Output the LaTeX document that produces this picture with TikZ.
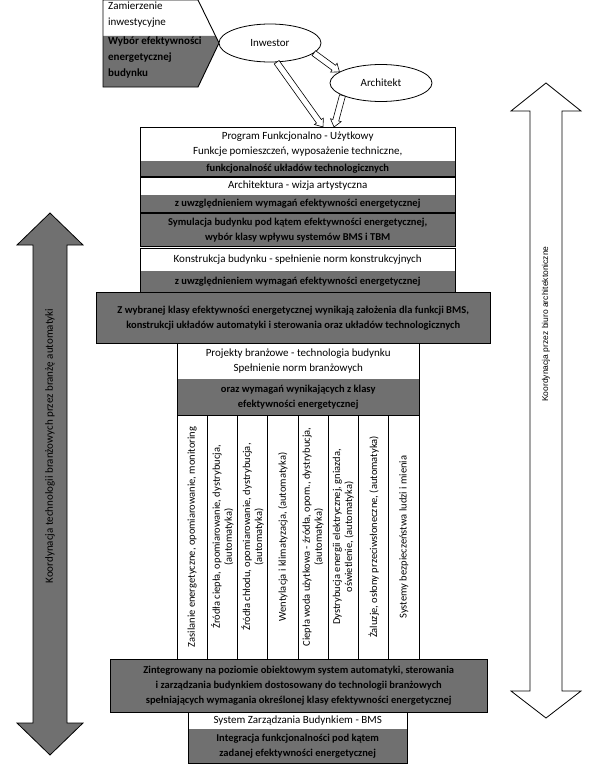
\documentclass[tikz,border=0pt]{standalone}
\usepackage{fontspec}
\setmainfont{Carlito}
\newfontfamily\arialfont{Liberation Sans}
\usetikzlibrary{calc,shapes.geometric}
\definecolor{boxgray}{RGB}{112,112,112}
\tikzset{
  boxline/.style={draw,line width=0.9pt},
  wpart/.style={fill=white,inner sep=0pt,align=center,font=\fontsize{11}{15}\selectfont},
  gpart/.style={fill=boxgray,inner sep=0pt,align=center,font=\fontsize{10.5}{15}\selectfont\bfseries},
  bubble/.style={ellipse,draw,fill=white,line width=0.8pt,minimum width=102pt,minimum height=38pt,inner sep=0pt,font=\fontsize{11}{12}\selectfont},
  colbox/.style={draw,line width=0.9pt,rotate=90,minimum width=244pt,minimum height=30.25pt,inner sep=0pt,align=center,font=\fontsize{10.5}{12}\selectfont},
  hollow/.style={draw,fill=white,line width=0.6pt,line join=miter}
}
% hollow arrow between two points
\newcommand{\hollowarrow}[2]{%
  \coordinate (ha) at ($(#2)!7pt!(#1)$);
  \draw[hollow] ($(#1)!3pt!90:(#2)$) -- ($(ha)!3pt!-90:(#1)$) -- ($(ha)!5.5pt!-90:(#1)$) -- (#2)
    -- ($(ha)!5.5pt!90:(#1)$) -- ($(ha)!3pt!90:(#1)$) -- ($(#1)!3pt!-90:(#2)$) -- cycle;
}

\begin{document}
\begin{tikzpicture}[x=1pt,y=-1pt]
  % drawing parameters
  \pgfmathsetmacro{\colw}{30.25} % width of one column
  \pgfmathsetmacro{\colx}{177} % left edge of the columns
  \useasboundingbox (0,0) rectangle (600,768);

  % coordination arrows
  \draw[fill=boxgray,line width=0.8pt] (50,213) -- (83,245) -- (67,245) -- (67,723) -- (83,723) -- (50,755)
    -- (17,723) -- (33,723) -- (33,245) -- (17,245) -- cycle;
  \node[rotate=90,font=\fontsize{11}{12}\selectfont] (koordl) at (50,446) {Koordynacja technologii branżowych przez branżę automatyki};
  \draw[fill=white,line width=0.8pt] (546,83) -- (581,111) -- (562,111) -- (562,691) -- (581,691) -- (546,718)
    -- (511,691) -- (530,691) -- (530,111) -- (511,111) -- cycle;
  \node[rotate=90,font=\arialfont\fontsize{8.5}{10}\selectfont] (koordr) at (546,324) {Koordynacja przez biuro architektoniczne};

  % investment intention
  \fill[white] (103,0) -- (198,0) -- (219,43) -- (198,87) -- (103,87) -- cycle;
  \fill[boxgray] (103,36) -- (215.6,36) -- (219,43) -- (198,87) -- (103,87) -- cycle;
  \draw[line width=0.9pt] (103,0) -- (198,0) -- (219,43) -- (198,87) -- (103,87) -- cycle;
  \node[anchor=north west,inner sep=0pt,align=left,font=\fontsize{11}{15.5}\selectfont] (zam) at (108,2) {Zamierzenie\\inwestycyjne};
  \node[anchor=north west,inner sep=0pt,align=left,font=\fontsize{11}{16}\selectfont\bfseries] (wyb) at (108,37) {Wybór efektywności\\energetycznej\\budynku};

  % investor and architect
  \node[bubble] (inw) at (270,43) {Inwestor};
  \node[bubble,minimum height=37pt] (arch) at (381,83) {Architekt};

  % functional program
  \node[wpart,anchor=north west,minimum width=315pt,minimum height=33pt] (prog) at (140,127) {Program Funkcjonalno - Użytkowy\\Funkcje pomieszczeń, wyposażenie techniczne,};
  \node[gpart,anchor=north,minimum width=315pt,minimum height=16pt] (progg) at (prog.south) {funkcjonalność układów technologicznych};
  \draw[boxline] (prog.north west) rectangle (progg.south east);
  \coordinate (pin1) at ($(prog.north west)+(183,0)$);
  \coordinate (pin2) at ($(prog.north west)+(194,0)$);
  \hollowarrow{inw.-13}{arch.165}
  \hollowarrow{inw.-71}{pin1}
  \hollowarrow{arch.198}{pin2}

  % architecture
  \node[wpart,anchor=north west,minimum width=315pt,minimum height=17pt] (arc) at (140,177) {Architektura - wizja artystyczna};
  \node[gpart,anchor=north,minimum width=315pt,minimum height=18pt] (arcg) at (arc.south) {z uwzględnieniem wymagań efektywności energetycznej};
  \draw[boxline] (arc.north west) rectangle (arcg.south east);

  % simulation
  \node[gpart,anchor=north west,minimum width=315pt,minimum height=33pt] (sym) at (140,213) {Symulacja budynku pod kątem efektywności energetycznej,\\wybór klasy wpływu systemów BMS i TBM};
  \draw[boxline] (sym.north west) rectangle (sym.south east);

  % construction
  \node[wpart,anchor=north west,minimum width=315pt,minimum height=22pt] (kons) at (140,248) {Konstrukcja budynku - spełnienie norm konstrukcyjnych};
  \node[gpart,anchor=north,minimum width=315pt,minimum height=22pt] (konsg) at (kons.south) {z uwzględnieniem wymagań efektywności energetycznej};
  \draw[boxline] (kons.north west) rectangle (konsg.south east);

  % energy efficiency class
  \node[gpart,anchor=north west,minimum width=394pt,minimum height=51pt] (klasa) at (96,292) {Z wybranej klasy efektywności energetycznej wynikają założenia dla funkcji BMS,\\konstrukcji układów automatyki i sterowania oraz układów technologicznych};
  \draw[boxline] (klasa.north west) rectangle (klasa.south east);

  % trade projects
  \node[wpart,anchor=north west,minimum width=242pt,minimum height=35pt] (proj) at (177,343) {Projekty branżowe - technologia budynku\\Spełnienie norm branżowych};
  \node[gpart,anchor=north,minimum width=242pt,minimum height=37pt] (projg) at (proj.south) {oraz wymagań wynikających z klasy\\efektywności energetycznej};
  \draw[boxline] (proj.north west) rectangle (projg.south east);

  % trade columns
  \foreach \txt [count=\i] in {
    {Zasilanie energetyczne, opomiarowanie, monitoring},
    {Źródła ciepła, opomiarowanie, dystrybucja,\\(automatyka)},
    {Źródła chłodu, opomiarowanie, dystrybucja,\\(automatyka)},
    {Wentylacja i klimatyzacja, (automatyka)},
    {Ciepła woda użytkowa - źródła, opom., dystrybucja,\\(automatyka)},
    {Dystrybucja energii elektrycznej, gniazda,\\oświetlenie, (automatyka)},
    {Żaluzje, osłony przeciwsłoneczne, (automatyka)},
    {Systemy bezpieczeństwa ludzi i mienia}}
    \node[colbox] (col\i) at ({\colx+(\i-0.5)*\colw},537) {\txt};

  % integrated system
  \node[gpart,anchor=north west,minimum width=377pt,minimum height=53pt] (zint) at (110,659) {Zintegrowany na poziomie obiektowym system automatyki, sterowania\\i zarządzania budynkiem dostosowany do technologii branżowych\\spełniających wymagania określonej klasy efektywności energetycznej};
  \draw[boxline] (zint.north west) rectangle (zint.south east);

  % BMS
  \node[wpart,anchor=north west,minimum width=219pt,minimum height=16pt] (bms) at (188,712) {System Zarządzania Budynkiem - BMS};
  \node[gpart,anchor=north,minimum width=219pt,minimum height=35pt] (bmsg) at (bms.south) {Integracja funkcjonalności pod kątem\\zadanej efektywności energetycznej};
  \draw[boxline] (bms.north west) rectangle (bmsg.south east);
\end{tikzpicture}
\end{document}
